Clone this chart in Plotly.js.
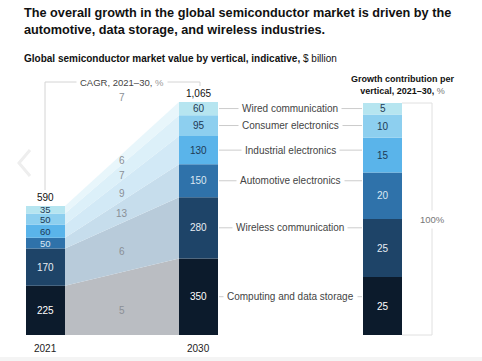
<!DOCTYPE html>
<html><head><meta charset="utf-8">
<script src="https://cdn.plot.ly/plotly-3.0.1.min.js"></script>
<style>html,body{margin:0;padding:0;background:#fff}#chart{width:482px;height:361px}</style>
</head><body><div id="chart"></div>
<script>
// Data
const verticals = ["Computing and data storage","Wireless communication","Automotive electronics","Industrial electronics","Consumer electronics","Wired communication"];
const values2021 = [225,170,50,60,50,35];
const values2030 = [350,280,150,130,95,60];
const total2021 = 590;
const total2030 = 1065;
const cagr = [5,6,13,9,7,6];
const cagrTotal = 7;
const growthShare = [25,25,20,15,10,5];
const years = ["2021","2030"];

const barColors = ["#0c1b2c","#1e4468","#2f72aa","#5ab4ea","#8dcfef","#b6e5f0"];
const bandColors = ["#babdc2","#b8cbda","#c6ddec","#d2e9f6","#dcf0f9","#e8f6fb"];
const valTextColors = ["#ffffff","#e8eef4","#dce8f2","#1e3a55","#1e3a55","#1e3a55"];
const FONT = "Liberation Sans, Arial, sans-serif";

const W=482,H=361;
const xL=45.5, xR=198.5, xG=382.5, bw=39;
const pxPerUnit = 233/1065, baseY=335;
const yRange=[-(H-baseY)/pxPerUnit, baseY/pxPerUnit];
const pxPerPct = 232/100;
const y2Range=[-(H-baseY)/pxPerPct, baseY/pxPerPct];
const P = py => 1 - py/H;

function cum(a){const r=[0];a.forEach(v=>r.push(r[r.length-1]+v));return r;}
const c21=cum(values2021), c30=cum(values2030), cg=cum(growthShare);

const traces=[];
for(let i=0;i<verticals.length;i++){
  traces.push({type:'scatter',mode:'lines',fill:'toself',fillcolor:bandColors[i],line:{width:0},hoverinfo:'skip',
    x:[xL+bw/2,xR-bw/2,xR-bw/2,xL+bw/2],y:[c21[i],c30[i],c30[i+1],c21[i+1]]});
}
for(let i=0;i<verticals.length;i++){
  traces.push({type:'bar',x:[xL,xR],y:[values2021[i],values2030[i]],base:[c21[i],c30[i]],width:bw,
    marker:{color:barColors[i],line:{width:0}},hoverinfo:'skip'});
  traces.push({type:'bar',x:[xG],y:[growthShare[i]],base:[cg[i]],width:bw,yaxis:'y2',
    marker:{color:barColors[i],line:{width:0}},hoverinfo:'skip'});
}

const ann=[];
const shapes=[];
function txt(x,y,t,o){ann.push(Object.assign({x:x,y:y,text:t,showarrow:false,xref:'x',yref:'y',
  font:{family:FONT,size:10,color:'#333'},xanchor:'center',yanchor:'middle'},o||{}));}
function ptxt(x,py,t,o){ann.push(Object.assign({x:x,y:P(py),text:t,showarrow:false,xref:'x',yref:'paper',
  font:{family:FONT,size:10,color:'#333'},xanchor:'center',yanchor:'middle'},o||{}));}

for(let i=0;i<verticals.length;i++){
  const small = values2021[i]<100;
  txt(xL,c21[i]+values2021[i]/2,String(values2021[i]),{font:{family:FONT,size:small?9.5:10,color:valTextColors[i]}});
  txt(xR,c30[i]+values2030[i]/2,String(values2030[i]),{font:{family:FONT,size:10,color:valTextColors[i]}});
  txt(xG,cg[i]+growthShare[i]/2,String(growthShare[i]),{yref:'y2',font:{family:FONT,size:10,color:valTextColors[i]}});
  const yl=c30[i]+values2030[i]/2;
  txt(290,yl,verticals[i],{font:{family:FONT,size:10,color:'#444'},bgcolor:'#fff',borderpad:3});
  shapes.push({type:'line',xref:'x',yref:'y',x0:xR+bw/2+1,x1:xG-bw/2-1,y0:yl,y1:yl,line:{color:'#cccccc',width:1},layer:'below'});
}
const cagrPy=[310,251,213,193,175,160];
for(let i=0;i<cagr.length;i++){
  ptxt(122,cagrPy[i],String(cagr[i]),{font:{family:FONT,size:10,color:'#8a8f96'}});
}
ptxt(122,97,String(cagrTotal),{font:{family:FONT,size:10,color:'#8a8f96'}});
txt(xL,total2021,total2021.toLocaleString('en-US'),{yanchor:'bottom',yshift:1,font:{family:FONT,size:10,color:'#111'}});
txt(xR,total2030,total2030.toLocaleString('en-US'),{yanchor:'bottom',yshift:1,font:{family:FONT,size:10,color:'#111'}});
ptxt(xL,348,years[0],{font:{family:FONT,size:10,color:'#222'}});
ptxt(xR,348,years[1],{font:{family:FONT,size:10,color:'#222'}});
ptxt(122,82,'CAGR, 2021–30, <span style="color:#999">%</span>',{font:{family:FONT,size:9.5,color:'#444'},bgcolor:'#fff',borderpad:3});
const lg='#d4d4d4';
shapes.push({type:'line',xref:'x',yref:'paper',x0:45,x1:200,y0:P(82),y1:P(82),line:{color:lg,width:1},layer:'below'});
shapes.push({type:'line',xref:'x',yref:'paper',x0:45,x1:45,y0:P(82),y1:P(190),line:{color:lg,width:1}});
shapes.push({type:'line',xref:'x',yref:'paper',x0:200,x1:200,y0:P(82),y1:P(86),line:{color:lg,width:1}});
shapes.push({type:'line',xref:'x',yref:'y2',x0:xG+bw/2,x1:432,y0:100,y1:100,line:{color:'#e0e0e0',width:1}});
shapes.push({type:'line',xref:'x',yref:'y2',x0:xG+bw/2,x1:432,y0:0,y1:0,line:{color:'#e0e0e0',width:1}});
shapes.push({type:'line',xref:'x',yref:'y2',x0:432,x1:432,y0:0,y1:100,line:{color:'#e0e0e0',width:1},layer:'below'});
ann.push({x:432,y:50,xref:'x',yref:'y2',text:'100%',showarrow:false,font:{family:FONT,size:9.5,color:'#777'},bgcolor:'#fff',borderpad:3,yanchor:'middle'});
ptxt(402,85,'<b>Growth contribution per</b><br><b>vertical, 2021–30,</b> <span style="color:#777">%</span>',{font:{family:FONT,size:9,color:'#111'},align:'center'});
ann.push({x:22/W,y:P(4),xref:'paper',yref:'paper',xanchor:'left',yanchor:'top',align:'left',showarrow:false,
  text:'<b>The overall growth in the global semiconductor market is driven by the<br>automotive, data storage, and wireless industries.</b>',font:{family:FONT,size:12.7,color:'#111'}});
ann.push({x:22/W,y:P(58),xref:'paper',yref:'paper',xanchor:'left',yanchor:'middle',showarrow:false,
  text:'<b>Global semiconductor market value by vertical, indicative,</b> $ billion',font:{family:FONT,size:10,color:'#111'}});
shapes.push({type:'rect',xref:'paper',yref:'paper',x0:0,x1:1,y0:0,y1:P(357),fillcolor:'#f4f4f4',line:{width:0}});
shapes.push({type:'path',xref:'x',yref:'paper',path:`M 30 ${P(150)} L 19 ${P(163)} L 30 ${P(176)}`,line:{color:'#eeeeee',width:3}});

const layout={width:W,height:H,margin:{l:0,r:0,t:0,b:0},paper_bgcolor:'#fff',plot_bgcolor:'#fff',showlegend:false,
  barmode:'overlay',
  xaxis:{range:[0,W],visible:false,fixedrange:true},
  yaxis:{range:yRange,visible:false,fixedrange:true},
  yaxis2:{range:y2Range,visible:false,overlaying:'y',fixedrange:true},
  annotations:ann,shapes:shapes};
Plotly.newPlot('chart',traces,layout,{staticPlot:true});
</script></body></html>
